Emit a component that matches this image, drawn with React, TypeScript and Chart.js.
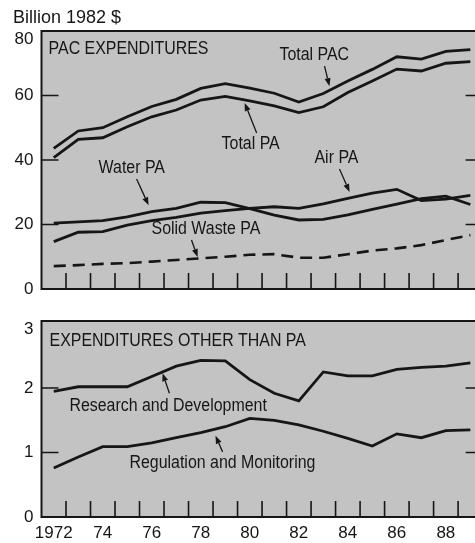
import React, { useEffect, useRef } from 'react';
import { Chart, registerables } from 'chart.js';

Chart.register(...registerables);

// ---------- data ----------
const years = [1972, 1973, 1974, 1975, 1976, 1977, 1978, 1979, 1980, 1981, 1982, 1983, 1984, 1985, 1986, 1987, 1988, 1989];

const totalPAC = [43.6, 49.0, 50.0, 53.4, 56.6, 58.8, 62.2, 63.7, 62.3, 60.7, 58.0, 60.6, 64.5, 68.1, 72.0, 71.3, 73.7, 74.2];
const totalPA = [40.7, 46.4, 46.9, 50.3, 53.4, 55.5, 58.6, 59.7, 58.3, 56.8, 54.7, 56.5, 60.9, 64.5, 68.2, 67.6, 70.0, 70.5];
const waterPA = [20.4, 20.8, 21.2, 22.4, 24.0, 25.0, 26.9, 26.8, 24.9, 22.9, 21.4, 21.6, 23.0, 24.7, 26.3, 28.0, 28.8, 26.2];
const airPA = [14.7, 17.6, 17.8, 19.8, 21.2, 22.2, 23.5, 24.3, 25.0, 25.5, 25.0, 26.4, 28.1, 29.7, 30.9, 27.4, 27.9, 29.0];
const solidWastePA = [7.1, 7.4, 7.8, 8.0, 8.5, 9.0, 9.5, 10.0, 10.6, 10.8, 9.7, 9.7, 10.8, 11.9, 12.6, 13.6, 15.2, 16.7];

const researchDev = [1.95, 2.02, 2.02, 2.02, 2.18, 2.34, 2.43, 2.42, 2.13, 1.92, 1.80, 2.25, 2.19, 2.19, 2.29, 2.32, 2.34, 2.39];
const regMonitoring = [0.76, 0.93, 1.09, 1.09, 1.15, 1.23, 1.31, 1.40, 1.53, 1.50, 1.43, 1.33, 1.22, 1.10, 1.29, 1.23, 1.34, 1.35];

const xLabelYears = [1972, 1974, 1976, 1978, 1980, 1982, 1984, 1986, 1988];
const xLabels = ['1972', '74', '76', '78', '80', '82', '84', '86', '88'];
const topYTicks = [0, 20, 40, 60, 80];
const bottomYTicks = [0, 1, 2, 3];
const xMarks = years.slice(1).map((y) => y - 0.5);

type Note = { text: string; x: number; y: number };
type Arrow = { x1: number; y1: number; x2: number; y2: number };

const topNotes: Note[] = [
  { text: 'PAC EXPENDITURES', x: 1971.79, y: 74.4 },
  { text: 'Total PAC', x: 1981.21, y: 72.6 },
  { text: 'Total PA', x: 1978.85, y: 45.0 },
  { text: 'Water PA', x: 1973.83, y: 37.5 },
  { text: 'Air PA', x: 1982.64, y: 40.6 },
  { text: 'Solid Waste PA', x: 1975.99, y: 18.6 },
];
const topArrows: Arrow[] = [
  { x1: 1983.05, y1: 69.1, x2: 1983.25, y2: 62.9 },
  { x1: 1980.28, y1: 48.4, x2: 1979.79, y2: 57.7 },
  { x1: 1975.38, y1: 34.1, x2: 1975.87, y2: 26.0 },
  { x1: 1983.66, y1: 37.2, x2: 1984.07, y2: 30.1 },
  { x1: 1977.62, y1: 15.2, x2: 1977.87, y2: 9.9 },
];
const bottomNotes: Note[] = [
  { text: 'EXPENDITURES OTHER THAN PA', x: 1971.83, y: 2.73 },
  { text: 'Research and Development', x: 1972.64, y: 1.72 },
  { text: 'Regulation and Monitoring', x: 1975.09, y: 0.84 },
];
const bottomArrows: Arrow[] = [
  { x1: 1976.72, y1: 1.92, x2: 1976.44, y2: 2.23 },
  { x1: 1978.89, y1: 1.01, x2: 1978.6, y2: 1.26 },
];

// ---------- style ----------
const INK = '#161616';
const BG = '#c3c3c3';
const FONT = '"Liberation Sans", Arial, sans-serif';
const X_MIN = 1971.5;
const X_MAX = 1989.19;
const X_EDGE = 1989.5;

const pts = (vals: number[]) => years.map((y, i) => ({ x: y, y: vals[i] }));

const lineDs = (label: string, vals: number[], dash: number[] = []) => ({
  label,
  data: pts(vals),
  borderColor: INK,
  borderWidth: dash.length ? 2.6 : 2.8,
  borderDash: dash,
  pointRadius: 0,
  tension: 0,
  fill: false,
});

function panelPlugin(yMarks: number[], yLabels: number[], notes: Note[], arrows: Arrow[]) {
  return {
    id: 'panel',
    beforeDraw(chart: any) {
      const { ctx, chartArea } = chart;
      ctx.save();
      ctx.fillStyle = BG;
      ctx.fillRect(chartArea.left, chartArea.top, chart.width - chartArea.left, chartArea.bottom - chartArea.top);
      ctx.restore();
    },
    afterDraw(chart: any) {
      const { ctx, chartArea } = chart;
      const xs = chart.scales.x;
      const ys = chart.scales.y;
      const { left, top, bottom } = chartArea;
      const right = chart.width;
      ctx.save();
      ctx.strokeStyle = INK;
      // frame
      ctx.lineWidth = 2;
      ctx.beginPath();
      ctx.moveTo(right, top);
      ctx.lineTo(left, top);
      ctx.lineTo(left, bottom);
      ctx.lineTo(right, bottom);
      ctx.stroke();
      // x tick marks
      ctx.lineWidth = 1.6;
      ctx.beginPath();
      for (const v of xMarks) {
        const px = xs.getPixelForValue(v);
        ctx.moveTo(px, bottom);
        ctx.lineTo(px, bottom - 16);
      }
      // y tick marks
      const edge = xs.getPixelForValue(X_EDGE);
      for (const v of yMarks) {
        const py = ys.getPixelForValue(v);
        ctx.moveTo(left, py);
        ctx.lineTo(left + 17, py);
        ctx.moveTo(edge - 17, py);
        ctx.lineTo(edge, py);
      }
      ctx.stroke();
      // y tick labels (top one kept just inside the frame, as in the print)
      ctx.fillStyle = INK;
      ctx.font = `17px ${FONT}`;
      ctx.textAlign = 'right';
      ctx.textBaseline = 'middle';
      for (const v of yLabels) {
        let py = ys.getPixelForValue(v);
        if (py < top + 8) py = top + 8;
        ctx.fillText(String(v), left - 8, py);
      }
      // notes
      ctx.font = `17.5px ${FONT}`;
      ctx.textAlign = 'left';
      ctx.textBaseline = 'middle';
      for (const n of notes) {
        ctx.save();
        ctx.translate(xs.getPixelForValue(n.x), ys.getPixelForValue(n.y));
        ctx.scale(0.91, 1);
        ctx.fillText(n.text, 0, 0);
        ctx.restore();
      }
      // arrows
      ctx.lineWidth = 1.3;
      for (const a of arrows) {
        const x1 = xs.getPixelForValue(a.x1);
        const y1 = ys.getPixelForValue(a.y1);
        const x2 = xs.getPixelForValue(a.x2);
        const y2 = ys.getPixelForValue(a.y2);
        const ang = Math.atan2(y2 - y1, x2 - x1);
        const hl = 8;
        const hw = 3;
        const bx = x2 - hl * Math.cos(ang);
        const by = y2 - hl * Math.sin(ang);
        ctx.beginPath();
        ctx.moveTo(x1, y1);
        ctx.lineTo(bx, by);
        ctx.stroke();
        ctx.beginPath();
        ctx.moveTo(x2, y2);
        ctx.lineTo(bx + hw * Math.sin(ang), by - hw * Math.cos(ang));
        ctx.lineTo(bx - hw * Math.sin(ang), by + hw * Math.cos(ang));
        ctx.closePath();
        ctx.fill();
      }
      ctx.restore();
    },
  };
}

const tickFont = { family: FONT, size: 17 };

export default function App() {
  const topRef = useRef<HTMLCanvasElement | null>(null);
  const botRef = useRef<HTMLCanvasElement | null>(null);

  useEffect(() => {
    const top = new Chart(topRef.current as HTMLCanvasElement, {
      type: 'line',
      data: {
        datasets: [
          lineDs('Total PAC', totalPAC),
          lineDs('Total PA', totalPA),
          lineDs('Water PA', waterPA),
          lineDs('Air PA', airPA),
          lineDs('Solid Waste PA', solidWastePA, [12, 7]),
        ],
      },
      options: {
        responsive: false,
        animation: false,
        layout: { padding: { left: 13, top: 0, right: 0, bottom: 11 } },
        plugins: {
          legend: { display: false },
          tooltip: { enabled: false },
          title: {
            display: true,
            text: 'Billion 1982 $',
            align: 'start',
            color: INK,
            font: { family: FONT, size: 18, weight: 'normal', lineHeight: 1 },
            padding: { top: 9, bottom: 4 },
          },
        },
        scales: {
          x: {
            type: 'linear',
            min: X_MIN,
            max: X_MAX,
            ticks: { display: false },
            grid: { display: false, drawTicks: false },
            border: { display: false },
            afterFit: (s: any) => { s.height = 0; },
          },
          y: {
            min: 0,
            max: 80,
            afterBuildTicks: (s: any) => { s.ticks = topYTicks.map((v) => ({ value: v })); },
            ticks: { display: false },
            grid: { display: false, drawTicks: false },
            border: { display: false },
            afterFit: (s: any) => { s.width = 28.5; },
          },
        },
      },
      plugins: [panelPlugin([20, 40, 60], topYTicks, topNotes, topArrows)],
    } as any);

    const bot = new Chart(botRef.current as HTMLCanvasElement, {
      type: 'line',
      data: {
        datasets: [
          lineDs('Research and Development', researchDev),
          lineDs('Regulation and Monitoring', regMonitoring),
        ],
      },
      options: {
        responsive: false,
        animation: false,
        layout: { padding: { left: 13, top: 21, right: 0, bottom: 0 } },
        plugins: { legend: { display: false }, tooltip: { enabled: false } },
        scales: {
          x: {
            type: 'linear',
            min: X_MIN,
            max: X_MAX,
            afterBuildTicks: (s: any) => { s.ticks = xLabelYears.map((v) => ({ value: v })); },
            ticks: {
              color: INK,
              font: tickFont,
              padding: 6,
              autoSkip: false,
              maxRotation: 0,
              callback: (v: any) => {
                const i = xLabelYears.indexOf(Number(v));
                return i >= 0 ? xLabels[i] : '';
              },
            },
            grid: { display: false, drawTicks: false },
            border: { display: false },
            afterFit: (s: any) => { s.height = 26; },
          },
          y: {
            min: 0,
            max: 3.04,
            afterBuildTicks: (s: any) => { s.ticks = bottomYTicks.map((v) => ({ value: v })); },
            ticks: { display: false },
            grid: { display: false, drawTicks: false },
            border: { display: false },
            afterFit: (s: any) => { s.width = 28.5; },
          },
        },
      },
      plugins: [panelPlugin([1, 2], bottomYTicks, bottomNotes, bottomArrows)],
    } as any);

    return () => {
      top.destroy();
      bot.destroy();
    };
  }, []);

  return (
    <div style={{ position: 'absolute', left: 0, top: 0, width: 475, height: 543, background: '#fff', overflow: 'hidden' }}>
      <canvas ref={topRef} width={475} height={300} style={{ display: 'block', position: 'absolute', left: 0, top: 0 }} />
      <canvas ref={botRef} width={475} height={243} style={{ display: 'block', position: 'absolute', left: 0, top: 300 }} />
    </div>
  );
}
